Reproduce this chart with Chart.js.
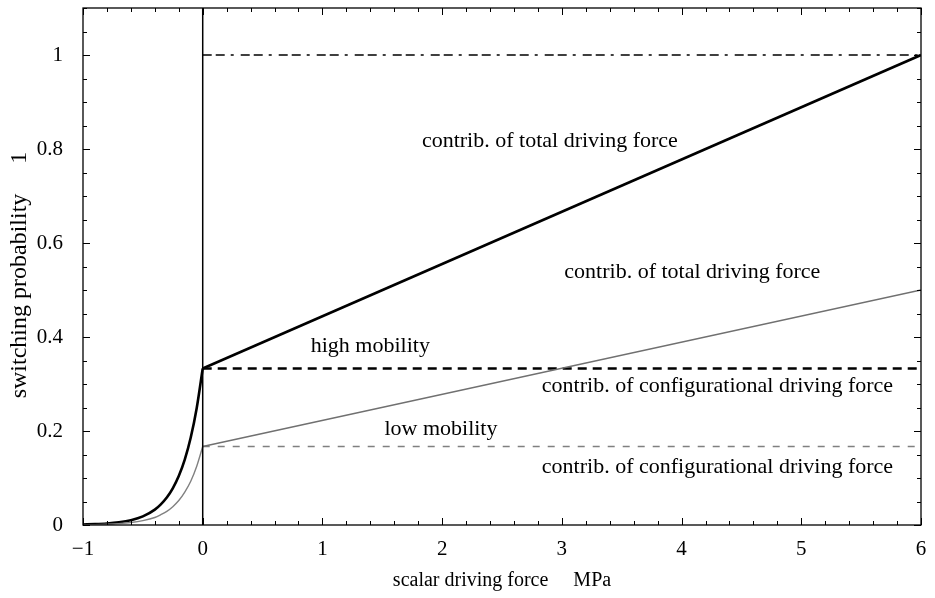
<!DOCTYPE html>
<html>
<head>
<meta charset="utf-8">
<script src="https://cdn.jsdelivr.net/npm/chart.js@4/dist/chart.umd.min.js"></script>
<style>
  html, body { margin: 0; padding: 0; background: #fff; }
  #wrap { width: 935px; height: 598px; }
</style>
</head>
<body>
<div id="wrap"><canvas id="c" width="935" height="598"></canvas></div>
<script>
// ---- data ----
const curveX       = [-1, -0.9, -0.8, -0.7, -0.6, -0.5, -0.4, -0.35, -0.3, -0.25, -0.2, -0.15, -0.1, -0.05, 0];
const highCurveY   = [0.001, 0.0018, 0.0032, 0.0058, 0.0103, 0.0183, 0.0327, 0.044, 0.0585, 0.078, 0.104, 0.139, 0.186, 0.249, 0.333];
const lowCurveY    = [0.0005, 0.0009, 0.0016, 0.0029, 0.0052, 0.0092, 0.016, 0.022, 0.029, 0.039, 0.052, 0.07, 0.093, 0.125, 0.167];
const lineX        = [0, 6];
const highTotalY   = [0.333, 1.0];
const lowTotalY    = [0.167, 0.5];
const highConfigY  = [0.333, 0.333];
const lowConfigY   = [0.167, 0.167];
const upperLimitY  = [1.0, 1.0];
const zeroLineX    = [0, 0];
const zeroLineY    = [0, 1.1];
const xTickValues  = [-1, 0, 1, 2, 3, 4, 5, 6];
const yTickValues  = [0, 0.2, 0.4, 0.6, 0.8, 1];
const yTickLabels  = ["0", "0.2", "0.4", "0.6", "0.8", "1"];
const xTickLabels  = ["\u22121", "0", "1", "2", "3", "4", "5", "6"];
const xTitle       = "scalar driving force     MPa";
const yTitle       = "switching probability     1";
const annotations  = [
  { text: "contrib. of total driving force",           x: 2.90, y: 0.817 },
  { text: "contrib. of total driving force",           x: 4.09, y: 0.537 },
  { text: "high mobility",                             x: 1.40, y: 0.381 },
  { text: "contrib. of configurational driving force", x: 4.30, y: 0.296 },
  { text: "low mobility",                              x: 1.99, y: 0.203 },
  { text: "contrib. of configurational driving force", x: 4.30, y: 0.124 }
];

const SERIF = "'Liberation Serif', 'DejaVu Serif', serif";
const pts = (xs, ys) => xs.map((x, i) => ({ x: x, y: ys[i] }));

const base = { pointRadius: 0, fill: false, tension: 0 };
const datasets = [
  Object.assign({}, base, { data: pts(zeroLineX, zeroLineY), borderColor: '#000', borderWidth: 1.5 }),
  Object.assign({}, base, { data: pts(curveX, lowCurveY), borderColor: '#808080', borderWidth: 1.4, cubicInterpolationMode: 'monotone' }),
  Object.assign({}, base, { data: pts(lineX, lowTotalY), borderColor: '#707070', borderWidth: 1.4 }),
  Object.assign({}, base, { data: pts(lineX, lowConfigY), borderColor: '#808080', borderWidth: 1.4, borderDash: [7, 8] }),
  Object.assign({}, base, { data: pts(lineX, upperLimitY), borderColor: '#000', borderWidth: 1.5, borderDash: [9, 4, 9, 6, 3, 7] }),
  Object.assign({}, base, { data: pts(lineX, highConfigY), borderColor: '#000', borderWidth: 2.5, borderDash: [9, 6] }),
  Object.assign({}, base, { data: pts(curveX, highCurveY), borderColor: '#000', borderWidth: 2.6, cubicInterpolationMode: 'monotone' }),
  Object.assign({}, base, { data: pts(lineX, highTotalY), borderColor: '#000', borderWidth: 2.6 })
];

const frameAndTicks = {
  id: 'frameAndTicks',
  afterDraw(chart) {
    const ctx = chart.ctx, a = chart.chartArea;
    const xs = chart.scales.x, ys = chart.scales.y;
    ctx.save();
    ctx.strokeStyle = '#000';
    ctx.lineWidth = 1.3;
    ctx.strokeRect(a.left, a.top, a.right - a.left, a.bottom - a.top);
    ctx.lineWidth = 1;
    ctx.beginPath();
    // x ticks every 0.2, major every 1
    for (let i = -5; i <= 30; i++) {
      const v = i / 5;
      const px = Math.round(xs.getPixelForValue(v)) + 0.5;
      const len = (i % 5 === 0) ? 7 : 4;
      ctx.moveTo(px, a.bottom); ctx.lineTo(px, a.bottom - len);
      ctx.moveTo(px, a.top); ctx.lineTo(px, a.top + len);
    }
    // y ticks every 0.05, major every 0.2
    for (let i = 0; i <= 22; i++) {
      const v = i * 0.05;
      const py = Math.round(ys.getPixelForValue(v)) + 0.5;
      const len = (i % 4 === 0) ? 7 : 4;
      ctx.moveTo(a.left, py); ctx.lineTo(a.left + len, py);
      ctx.moveTo(a.right, py); ctx.lineTo(a.right - len, py);
    }
    ctx.stroke();
    // annotations
    ctx.fillStyle = '#000';
    ctx.font = '22px ' + SERIF;
    ctx.textAlign = 'center';
    ctx.textBaseline = 'middle';
    annotations.forEach(an => {
      ctx.fillText(an.text, xs.getPixelForValue(an.x), ys.getPixelForValue(an.y));
    });
    // y axis title (rotated)
    ctx.font = '24px ' + SERIF;
    ctx.translate(20, 275);
    ctx.rotate(-Math.PI / 2);
    ctx.fillText(yTitle, 0, 0);
    ctx.restore();
  }
};

new Chart(document.getElementById('c'), {
  type: 'line',
  data: { datasets: datasets },
  options: {
    responsive: false,
    animation: false,
    events: [],
    layout: { padding: { top: 8, right: 14, left: 0, bottom: 0 } },
    plugins: { legend: { display: false }, tooltip: { enabled: false } },
    scales: {
      x: {
        type: 'linear', min: -1, max: 6,
        border: { display: false },
        grid: { display: false, drawTicks: false },
        afterBuildTicks(scale) { scale.ticks = xTickValues.map(v => ({ value: v })); },
        afterFit(scale) { scale.height = 73; scale.paddingLeft = 0; scale.paddingRight = 0; },
        ticks: {
          padding: 12, color: '#000', maxRotation: 0,
          font: { family: SERIF, size: 21 },
          callback: (v) => { const i = xTickValues.indexOf(v); return i >= 0 ? xTickLabels[i] : ''; }
        },
        title: {
          display: true, text: xTitle, color: '#000',
          font: { family: SERIF, size: 20 }, padding: { top: 0, bottom: 5 }
        }
      },
      y: {
        type: 'linear', min: 0, max: 1.1,
        border: { display: false },
        grid: { display: false, drawTicks: false },
        afterBuildTicks(scale) { scale.ticks = yTickValues.map(v => ({ value: v })); },
        afterFit(scale) { scale.width = 83; scale.paddingTop = 0; scale.paddingBottom = 0; },
        ticks: {
          padding: 20, color: '#000',
          font: { family: SERIF, size: 21 },
          callback: (v) => { const i = yTickValues.indexOf(v); return i >= 0 ? yTickLabels[i] : ''; }
        },
        title: { display: false }
      }
    }
  },
  plugins: [frameAndTicks]
});
</script>
</body>
</html>
